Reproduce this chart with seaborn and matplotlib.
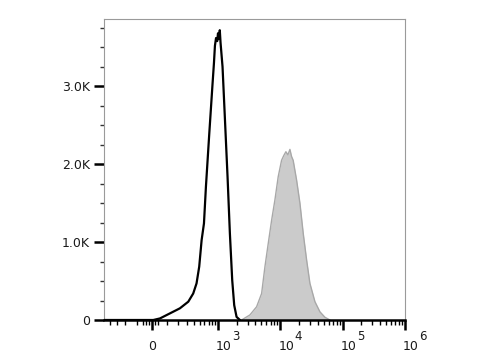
import numpy as np
import pandas as pd
import matplotlib
matplotlib.use("Agg")
import matplotlib.pyplot as plt
import matplotlib.transforms as mtransforms
import seaborn as sns

# ---- data (fluorescence intensity vs. event count) ----
control_intensity = [-500, -200, 0, 9, 53, 126, 216, 314, 385, 440, 489, 537, 588, 634,
                     720, 815, 860, 892, 930, 973, 1000, 1047, 1070, 1101, 1186, 1293,
                     1429, 1559, 1700, 1830, 1997, 2260]
control_count = [0, 0, 0, 0, 20, 85, 150, 235, 340, 470, 685, 1025, 1240, 1710,
                 2390, 3030, 3300, 3520, 3620, 3580, 3680, 3610, 3720, 3560, 3250, 2600,
                 1840, 1110, 510, 190, 40, 0]

stained_intensity = [2406, 3270, 4190, 5040, 5700, 6430, 7290, 8230, 9300, 10530,
                     11400, 12350, 13300, 14330, 15200, 16150, 18330, 20720, 23420,
                     26520, 29970, 36050, 43350, 52150, 62740]
stained_count = [0, 65, 170, 340, 685, 980, 1280, 1540, 1840, 2050, 2110, 2160,
                 2120, 2190, 2100, 2050, 1795, 1500, 1110, 770, 470, 235, 105, 35, 0]

x_tick_values = [0, 1e3, 1e4, 1e5, 1e6]
x_tick_labels = ["0", "10", "10", "10", "10"]
x_tick_powers = ["3", "4", "5", "6"]
y_tick_values = [0, 1000, 2000, 3000]
y_tick_labels = ["0", "1.0K", "2.0K", "3.0K"]

# ---- style ----
sns.set_theme(style="ticks")
plt.rcParams["font.family"] = ["DejaVu Sans"]

W = 176.0
LN10 = np.log(10)


def fwd(x):
    return np.arcsinh(np.asarray(x, dtype=float) / W) / LN10


def inv(y):
    return W * np.sinh(np.asarray(y, dtype=float) * LN10)


fig = plt.figure(figsize=(4.8, 3.6), dpi=100)
ax = fig.add_axes([104 / 480, 1 - 320 / 360, (405 - 104) / 480, (320 - 19.3) / 360])
ax.set_xscale("function", functions=(fwd, inv))

df_c = pd.DataFrame({"intensity": control_intensity, "count": control_count})
df_s = pd.DataFrame({"intensity": stained_intensity, "count": stained_count})

ax.fill_between(df_s["intensity"], 0, df_s["count"], color="#cbcbcb", lw=0, zorder=1)
sns.lineplot(data=df_s, x="intensity", y="count", color="#a8a8a8", lw=1.0,
             estimator=None, sort=False, ax=ax, zorder=2)
sns.lineplot(data=df_c, x="intensity", y="count", color="black", lw=1.6,
             estimator=None, sort=False, ax=ax, zorder=3)

ax.set_xlim(-500, 1e6)
ax.set_ylim(0, 3860)
ax.set_xlabel("")
ax.set_ylabel("")

for s in ["top", "right", "left"]:
    ax.spines[s].set_color("#9a9a9a")
    ax.spines[s].set_linewidth(0.8)
ax.spines["bottom"].set_color("black")
ax.spines["bottom"].set_linewidth(1.8)
ax.spines["bottom"].set_zorder(4)

# y ticks
ax.set_yticks(y_tick_values)
ax.set_yticklabels(y_tick_labels)
ax.set_yticks([250, 500, 750, 1250, 1500, 1750, 2250, 2500, 2750, 3250, 3500, 3750],
              minor=True)
ax.tick_params(axis="y", which="major", direction="out", length=7, width=1.8,
               color="black", labelsize=9, pad=3, labelcolor="#1a1a1a")
ax.tick_params(axis="y", which="minor", direction="out", length=3, width=1.0,
               color="#333333")

# x ticks
ax.set_xticks(x_tick_values)
ax.set_xticklabels(x_tick_labels)
minor_x = [-400, -300, -200, -100, -60, -40, -20, 20, 40] + list(range(100, 1000, 100))
for dec in [1e3, 1e4, 1e5]:
    minor_x += [k * dec for k in range(2, 10)]
ax.set_xticks(minor_x, minor=True)
ax.tick_params(axis="x", which="major", direction="out", length=7, width=1.8,
               color="black", labelsize=9, pad=7.5, labelcolor="#1a1a1a")
ax.tick_params(axis="x", which="minor", direction="out", length=3.5, width=1.0,
               color="black")

label_shift = mtransforms.ScaledTranslation(-2 / 100, 0, fig.dpi_scale_trans)
for lab in ax.get_xticklabels()[1:]:
    lab.set_horizontalalignment("left")
    lab.set_transform(lab.get_transform() + label_shift)

blend = mtransforms.blended_transform_factory(ax.transData, ax.transAxes)
for val, p in zip(x_tick_values[1:], x_tick_powers):
    tr = blend + mtransforms.ScaledTranslation(14.5 / 100, -19.5 / 100, fig.dpi_scale_trans)
    ax.text(val, 0, p, transform=tr, ha="left", va="baseline", fontsize=8.5,
            color="#1a1a1a", clip_on=False)

fig.savefig("out.png", dpi=100, facecolor="white")
